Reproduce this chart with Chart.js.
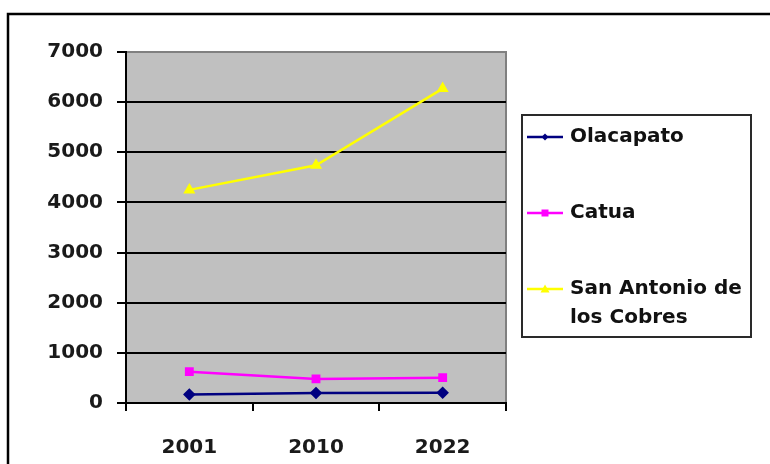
<!DOCTYPE html>
<html>
<head>
<meta charset="utf-8">
<script src="https://cdn.jsdelivr.net/npm/chart.js@4/dist/chart.umd.min.js"></script>
<style>
  html, body { margin: 0; padding: 0; background: #ffffff; }
  #wrap { width: 770px; height: 464px; }
</style>
</head>
<body>
<div id="wrap"><canvas id="c" width="770" height="464"></canvas></div>
<script>
// Population by locality and census year
const years = ['2001', '2010', '2022'];
const olacapato = [170, 200, 205];
const catua = [625, 480, 505];
const sanAntonio = [4250, 4740, 6270];
const seriesNames = ['Olacapato', 'Catua', 'San Antonio de los Cobres'];
const yTicks = [0, 1000, 2000, 3000, 4000, 5000, 6000, 7000];

const FONT = 'DejaVu Sans';

// Gray plot background, thin frame and the outer page border
const framePlugin = {
  id: 'frame',
  beforeDraw(chart) {
    const { ctx, chartArea: a } = chart;
    ctx.save();
    ctx.fillStyle = '#c0c0c0';
    ctx.fillRect(a.left, a.top, a.right - a.left, a.bottom - a.top);
    ctx.strokeStyle = '#808080';
    ctx.lineWidth = 2;
    ctx.beginPath();
    ctx.moveTo(a.left, a.top);
    ctx.lineTo(a.right, a.top);
    ctx.lineTo(a.right, a.bottom);
    ctx.stroke();
    ctx.restore();
  },
  afterDraw(chart) {
    const { ctx } = chart;
    ctx.save();
    ctx.strokeStyle = '#000000';
    ctx.lineWidth = 2.5;
    ctx.strokeRect(8, 14, 820, 520);
    ctx.restore();
  }
};

// Boxed legend to the right of the plot, with wrapped labels
const boxLegend = {
  id: 'boxLegend',
  afterDraw(chart) {
    const { ctx } = chart;
    const box = { x: 522, y: 115, w: 229, h: 222 };
    ctx.save();
    ctx.strokeStyle = '#2a2a2a';
    ctx.lineWidth = 2;
    ctx.strokeRect(box.x, box.y, box.w, box.h);
    ctx.font = 'bold 20px "' + FONT + '"';
    ctx.textBaseline = 'middle';
    ctx.textAlign = 'left';
    const rowsY = [137, 213, 289];
    const lineH = 29;
    chart.data.datasets.forEach((ds, i) => {
      const y = rowsY[i];
      ctx.strokeStyle = ds.borderColor;
      ctx.lineWidth = 2.5;
      ctx.beginPath();
      ctx.moveTo(527, y);
      ctx.lineTo(563, y);
      ctx.stroke();
      // marker
      ctx.fillStyle = ds.pointBackgroundColor;
      const cx = 545, r = 3.5;
      ctx.beginPath();
      if (ds.pointStyle === 'rectRot') {
        ctx.moveTo(cx, y - r); ctx.lineTo(cx + r, y); ctx.lineTo(cx, y + r); ctx.lineTo(cx - r, y);
      } else if (ds.pointStyle === 'rect') {
        ctx.rect(cx - r, y - r, 2 * r, 2 * r);
      } else {
        ctx.moveTo(cx, y - r - 1); ctx.lineTo(cx + r + 1, y + r); ctx.lineTo(cx - r - 1, y + r);
      }
      ctx.closePath();
      ctx.fill();
      // wrapped label
      ctx.fillStyle = '#111111';
      const words = ds.label.split(' ');
      const lines = [];
      let cur = '';
      words.forEach(w => {
        const t = cur ? cur + ' ' + w : w;
        if (ctx.measureText(t).width > 176 && cur) { lines.push(cur); cur = w; }
        else cur = t;
      });
      lines.push(cur);
      lines.forEach((ln, k) => ctx.fillText(ln, 570, y + k * lineH));
    });
    ctx.restore();
  }
};

new Chart(document.getElementById('c'), {
  type: 'line',
  data: {
    labels: years,
    datasets: [
      { label: seriesNames[0], data: olacapato, borderColor: '#000080', backgroundColor: '#000080',
        pointBackgroundColor: '#000080', pointBorderColor: '#000080', pointStyle: 'rectRot', pointRadius: 4.5, borderWidth: 2.5 },
      { label: seriesNames[1], data: catua, borderColor: '#ff00ff', backgroundColor: '#ff00ff',
        pointBackgroundColor: '#ff00ff', pointBorderColor: '#ff00ff', pointStyle: 'rect', pointRadius: 4.5, borderWidth: 2.5 },
      { label: seriesNames[2], data: sanAntonio, borderColor: '#ffff00', backgroundColor: '#ffff00',
        pointBackgroundColor: '#ffff00', pointBorderColor: '#ffff00', pointStyle: 'triangle', pointRadius: 4.5, borderWidth: 2.5 }
    ]
  },
  options: {
    responsive: false,
    animation: false,
    layout: { padding: { left: 0, top: 52, right: 264, bottom: 0 } },
    plugins: { legend: { display: false }, tooltip: { enabled: false } },
    elements: { line: { tension: 0 } },
    scales: {
      x: {
        offset: true,
        grid: { offset: true, drawOnChartArea: false, color: '#000000', tickColor: '#000000', tickLength: 8, lineWidth: 2 },
        border: { color: '#000000', width: 2 },
        ticks: { color: '#1a1a1a', padding: 25, font: { family: FONT, size: 20, weight: 'bold' } },
        afterFit(s) { s.height = 61; }
      },
      y: {
        min: 0, max: 7000,
        afterBuildTicks(s) { s.ticks = yTicks.map(v => ({ value: v })); },
        grid: {
          color: c => (c.tick && c.tick.value === 7000) ? 'rgba(0,0,0,0)' : '#000000',
          tickColor: '#000000', tickLength: 9, lineWidth: 2
        },
        border: { color: '#000000', width: 2 },
        ticks: { color: '#1a1a1a', padding: 14, font: { family: FONT, size: 20, weight: 'bold' },
          callback: v => String(v) },
        afterFit(s) { s.width = 126; }
      }
    }
  },
  plugins: [framePlugin, boxLegend]
});
</script>
</body>
</html>
